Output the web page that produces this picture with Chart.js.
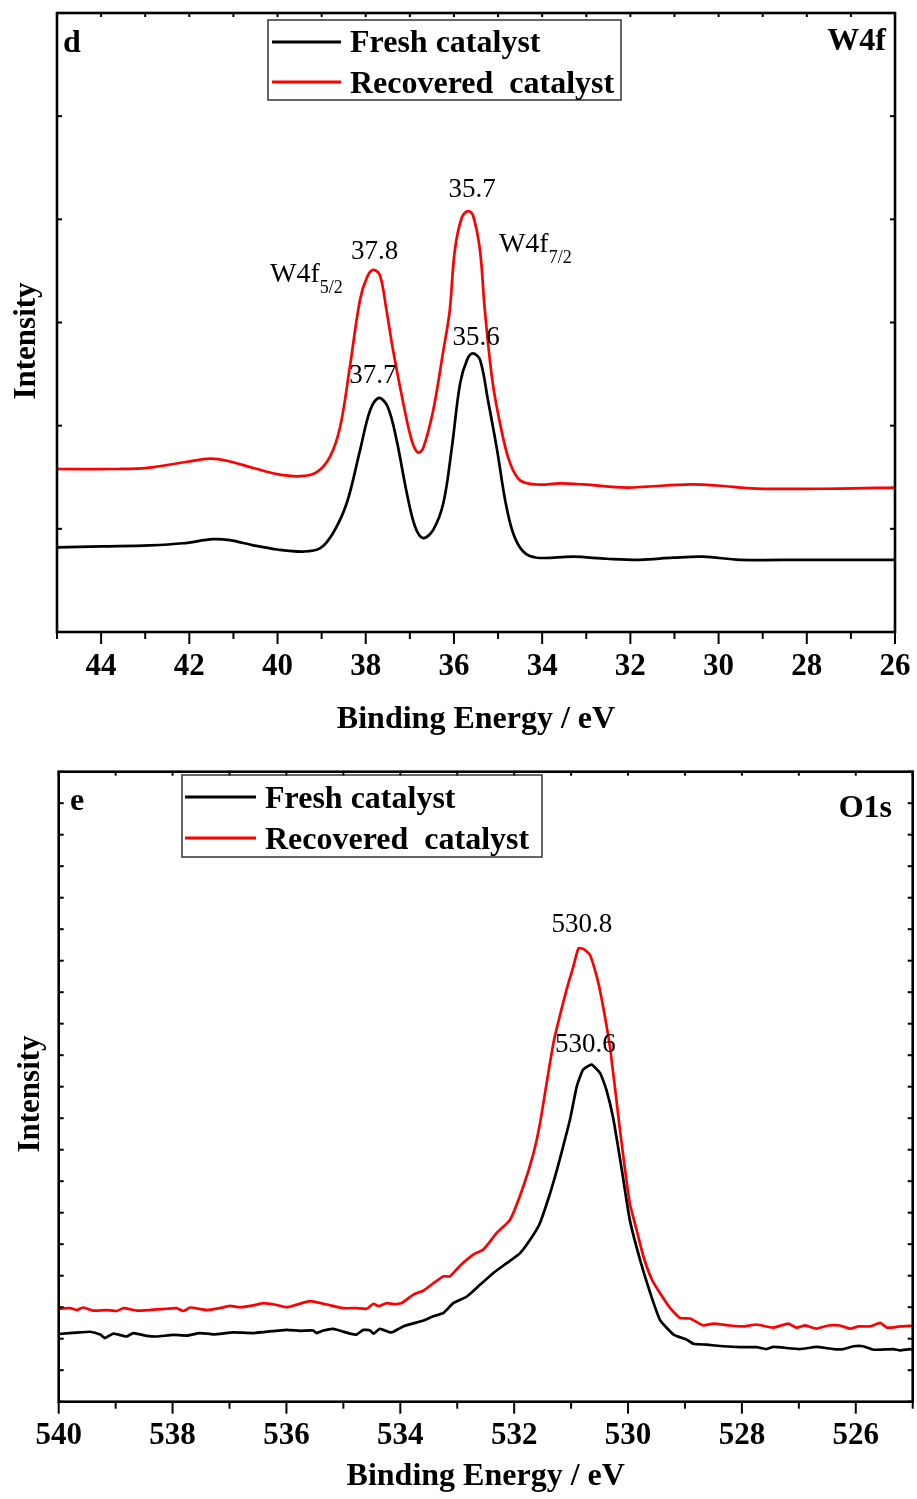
<!DOCTYPE html>
<html>
<head>
<meta charset="utf-8">
<title>XPS W4f / O1s</title>
<script src="https://cdn.jsdelivr.net/npm/chart.js@4.4.1/dist/chart.umd.min.js"></script>
<style>
  html, body { margin: 0; padding: 0; background: #fff; }
  #page { position: relative; width: 917px; height: 1499px; }
  #page canvas { position: absolute; left: 0; }
  #chartW { top: 0; }
  #chartO { top: 750px; }
</style>
</head>
<body>
<div id="page">
  <canvas id="chartW" width="917" height="750"></canvas>
  <canvas id="chartO" width="917" height="749"></canvas>
</div>
<script>
const SERIF = "'Liberation Serif', 'Times New Roman', serif";

const seriesNames = ["Fresh catalyst", "Recovered  catalyst"];
const seriesColors = ["#000000", "#ff0000"];

// --- W4f (panel d) ---
const wEnergyFresh = [45, 44, 42.9, 42.14, 41.46, 41.08, 40.55, 40.01, 39.42, 39.04, 38.74, 38.43, 38.13, 37.9, 37.7, 37.5, 37.3, 37.07, 36.88, 36.7, 36.47, 36.24, 36.05, 35.86, 35.7, 35.57, 35.41, 35.23, 35.02, 34.84, 34.66, 34.43, 34.12, 33.3, 32.53, 31.78, 31.03, 30.35, 29.51, 28.0, 26];
const wFresh = [0.82, 0.83, 0.84, 0.86, 0.90, 0.89, 0.84, 0.80, 0.78, 0.81, 0.96, 1.25, 1.76, 2.15, 2.27, 2.18, 1.86, 1.35, 1.02, 0.91, 0.99, 1.25, 1.78, 2.41, 2.64, 2.70, 2.64, 2.25, 1.76, 1.28, 0.96, 0.78, 0.72, 0.73, 0.71, 0.70, 0.72, 0.73, 0.70, 0.70, 0.70];
const wEnergyRec = [45, 43.64, 42.96, 42.05, 41.53, 41.15, 40.55, 40.01, 39.49, 39.11, 38.81, 38.58, 38.36, 38.13, 37.97, 37.83, 37.68, 37.53, 37.38, 37.15, 36.96, 36.82, 36.7, 36.47, 36.24, 36.1, 35.98, 35.82, 35.68, 35.57, 35.41, 35.3, 35.12, 34.91, 34.73, 34.5, 34.12, 33.6, 33.07, 32.08, 31.62, 30.64, 30.04, 29.13, 27.25, 26];
const wRec = [1.58, 1.58, 1.59, 1.65, 1.68, 1.66, 1.59, 1.53, 1.51, 1.55, 1.70, 1.99, 2.57, 3.22, 3.44, 3.51, 3.46, 3.12, 2.73, 2.22, 1.86, 1.74, 1.78, 2.15, 2.73, 3.10, 3.70, 4.02, 4.08, 4.04, 3.70, 3.12, 2.41, 1.93, 1.64, 1.47, 1.43, 1.44, 1.43, 1.40, 1.41, 1.43, 1.42, 1.39, 1.39, 1.40];
const wTicks = [26, 28, 30, 32, 34, 36, 38, 40, 42, 44];
const wPeakLabels = [
    { text: "37.8", x: 37.80, y: 3.615 },
    { text: "W4f", sub: "5/2", x: 40.17, y: 3.39 },
    { text: "35.7", x: 35.59, y: 4.216 },
    { text: "W4f", sub: "7/2", x: 34.98, y: 3.68 },
    { text: "37.7", x: 37.84, y: 2.41 },
    { text: "35.6", x: 35.50, y: 2.78 }
];

// --- O1s (panel e) ---
const oEnergyFresh = [540.0, 539.63, 539.45, 539.27, 539.19, 539.04, 538.81, 538.69, 538.45, 538.28, 537.99, 537.75, 537.52, 537.28, 536.93, 536.58, 536.0, 535.76, 535.53, 535.47, 535.35, 535.18, 534.88, 534.77, 534.65, 534.53, 534.47, 534.36, 534.18, 534.12, 533.95, 533.59, 533.42, 533.24, 533.07, 532.83, 532.6, 532.37, 532.13, 531.9, 531.72, 531.55, 531.37, 531.25, 531.14, 531.02, 530.9, 530.79, 530.64, 530.49, 530.38, 530.26, 530.11, 529.97, 529.79, 529.61, 529.44, 529.2, 528.97, 528.85, 528.62, 528.33, 528.03, 527.74, 527.57, 527.45, 526.98, 526.69, 526.39, 526.22, 526.04, 525.87, 525.69, 525.34, 525.22, 525.05, 525.0];
const oFresh = [2.15, 2.20, 2.22, 2.13, 2.02, 2.16, 2.07, 2.18, 2.09, 2.07, 2.12, 2.10, 2.18, 2.14, 2.20, 2.18, 2.28, 2.25, 2.26, 2.18, 2.26, 2.31, 2.16, 2.13, 2.28, 2.26, 2.16, 2.31, 2.20, 2.22, 2.39, 2.58, 2.71, 2.82, 3.13, 3.34, 3.71, 4.08, 4.40, 4.71, 5.14, 5.66, 6.61, 7.35, 8.10, 8.95, 10.01, 10.54, 10.70, 10.43, 9.90, 9.00, 7.37, 5.78, 4.51, 3.45, 2.60, 2.13, 1.97, 1.84, 1.81, 1.76, 1.73, 1.73, 1.67, 1.74, 1.67, 1.74, 1.67, 1.67, 1.76, 1.76, 1.65, 1.67, 1.63, 1.67, 1.66];
const oEnergyRec = [540.0, 539.8, 539.68, 539.57, 539.39, 539.16, 538.98, 538.86, 538.63, 538.4, 538.28, 538.1, 537.93, 537.81, 537.69, 537.4, 537.17, 536.99, 536.81, 536.58, 536.4, 536.17, 535.99, 535.82, 535.59, 535.35, 535.0, 534.77, 534.59, 534.47, 534.38, 534.24, 534.12, 533.98, 533.77, 533.59, 533.42, 533.24, 533.13, 532.95, 532.72, 532.54, 532.31, 532.07, 531.84, 531.66, 531.55, 531.31, 531.08, 530.96, 530.87, 530.78, 530.67, 530.55, 530.46, 530.31, 530.14, 529.97, 529.85, 529.73, 529.58, 529.44, 529.26, 529.09, 528.91, 528.68, 528.5, 528.21, 527.97, 527.74, 527.45, 527.19, 527.04, 526.89, 526.69, 526.48, 526.28, 526.1, 525.95, 525.75, 525.57, 525.45, 525.22, 525.05, 525.0];
const oRec = [2.95, 2.97, 2.91, 2.99, 2.89, 2.91, 2.88, 2.97, 2.89, 2.91, 2.93, 2.95, 2.97, 2.88, 2.99, 2.91, 2.97, 3.04, 3.00, 3.06, 3.13, 3.07, 3.00, 3.08, 3.19, 3.11, 2.97, 2.97, 2.95, 3.11, 3.03, 3.13, 3.10, 3.13, 3.40, 3.53, 3.76, 3.98, 3.98, 4.32, 4.67, 4.83, 5.35, 5.78, 6.83, 7.89, 8.80, 11.39, 13.08, 13.82, 14.40, 14.37, 14.19, 13.50, 12.76, 11.17, 8.60, 6.31, 5.46, 4.61, 3.87, 3.45, 2.97, 2.66, 2.64, 2.42, 2.48, 2.42, 2.39, 2.45, 2.35, 2.48, 2.35, 2.42, 2.32, 2.42, 2.42, 2.32, 2.39, 2.39, 2.50, 2.35, 2.39, 2.41, 2.40];
const oTicks = [526, 528, 530, 532, 534, 536, 538, 540];
const oPeakLabels = [
    { text: "530.8", x: 530.81, y: 14.92 },
    { text: "530.6", x: 530.75, y: 11.11 }
];

function toPoints(xs, ys) {
    return xs.map((v, i) => ({ x: v, y: ys[i] }));
}

// --- frame, ticks, legend and labels ---
const framePlugin = {
    id: "frame",
    afterDatasetsDraw(chart, args, o) {
        const { ctx, chartArea: a, scales: { x, y } } = chart;
        const seg = (x1, y1, x2, y2) => { ctx.beginPath(); ctx.moveTo(x1, y1); ctx.lineTo(x2, y2); ctx.stroke(); };
        ctx.save();
        ctx.strokeStyle = "#000";
        ctx.lineWidth = 2;
        for (let v = Math.ceil(x.min); v <= x.max; v++) {
            let px = x.getPixelForValue(v);
            seg(px, a.bottom, px, a.bottom + (v % 2 === 0 ? 12 : 7));
            seg(px, a.top, px, a.top + 4);
        }
        for (let v = y.min; v <= y.max; v++) {
            let py = y.getPixelForValue(v);
            seg(a.left, py, a.left + 5, py);
            seg(a.right, py, a.right - 5, py);
        }
        ctx.lineWidth = 2.6;
        ctx.strokeRect(a.left, a.top, a.right - a.left, a.bottom - a.top);

        // y title
        ctx.fillStyle = "#000";
        ctx.font = "bold 31px " + SERIF;
        ctx.save();
        ctx.translate(o.yTitle[0], o.yTitle[1]);
        ctx.rotate(-Math.PI / 2);
        ctx.textAlign = "center";
        ctx.textBaseline = "alphabetic";
        ctx.fillText("Intensity", 0, 0);
        ctx.restore();

        // panel letter and core level
        ctx.font = "bold 32px " + SERIF;
        ctx.textAlign = "left";
        ctx.fillText(o.panel.text, o.panel.x, o.panel.y);
        ctx.textAlign = "right";
        ctx.fillText(o.level.text, o.level.x, o.level.y);

        // legend
        const lg = o.legend;
        ctx.lineWidth = 1.5;
        ctx.strokeStyle = "#333";
        ctx.strokeRect(lg.box[0], lg.box[1], lg.box[2], lg.box[3]);
        ctx.textAlign = "left";
        chart.data.datasets.forEach((ds, i) => {
            ctx.strokeStyle = ds.borderColor;
            ctx.lineWidth = 3;
            seg(lg.line[0], lg.rows[i][0], lg.line[1], lg.rows[i][0]);
            ctx.fillStyle = "#000";
            ctx.fillText(ds.label, lg.textX, lg.rows[i][1]);
        });

        // peak labels
        o.peaks.forEach(p => {
            let px = x.getPixelForValue(p.x), py = y.getPixelForValue(p.y);
            if (p.sub) {
                ctx.font = "28px " + SERIF;
                ctx.textAlign = "left";
                ctx.fillText(p.text, px, py);
                let w = ctx.measureText(p.text).width;
                ctx.font = "18px " + SERIF;
                ctx.fillText(p.sub, px + w, py + 11);
            } else {
                ctx.font = "27px " + SERIF;
                ctx.textAlign = "center";
                ctx.fillText(p.text, px, py);
            }
        });
        ctx.restore();
    }
};

function makeChart(id, c) {
    return new Chart(document.getElementById(id), {
        type: "line",
        data: {
            datasets: [
                { label: seriesNames[0], data: toPoints(c.xf, c.yf), borderColor: seriesColors[0] },
                { label: seriesNames[1], data: toPoints(c.xr, c.yr), borderColor: seriesColors[1] }
            ]
        },
        options: {
            responsive: false,
            animation: false,
            layout: { padding: { top: c.padTop, right: c.padRight, left: 0, bottom: 0 } },
            elements: {
                point: { radius: 0 },
                line: { borderWidth: 2.7, tension: c.tension, fill: false }
            },
            plugins: { legend: { display: false }, tooltip: { enabled: false }, frame: c.frame },
            scales: {
                x: {
                    type: "linear", reverse: true, min: c.xMin, max: c.xMax,
                    grid: { display: false, drawTicks: false },
                    border: { display: false },
                    afterBuildTicks: s => { s.ticks = c.ticks.map(v => ({ value: v })); },
                    afterFit: s => { s.height = c.xAxisHeight; },
                    ticks: { font: { family: SERIF, weight: "bold", size: 31 }, color: "#000", padding: 16, maxRotation: 0, autoSkip: false },
                    title: { display: true, text: "Binding Energy / eV", color: "#000",
                             font: { family: SERIF, weight: "bold", size: 32 }, padding: { top: 0, bottom: c.titlePad } }
                },
                y: {
                    min: 0, max: c.yMax,
                    ticks: { display: false },
                    grid: { display: false, drawTicks: false },
                    border: { display: false },
                    afterFit: s => { s.width = c.yAxisWidth; }
                }
            }
        },
        plugins: [framePlugin]
    });
}

makeChart("chartW", {
    xf: wEnergyFresh, yf: wFresh, xr: wEnergyRec, yr: wRec, ticks: wTicks,
    xMin: 26, xMax: 45, yMax: 6, tension: 0.35,
    padTop: 13, padRight: 22, yAxisWidth: 57, xAxisHeight: 118, titlePad: 11,
    frame: {
        yTitle: [35, 341],
        panel: { text: "d", x: 63, y: 52 },
        level: { text: "W4f", x: 886, y: 50 },
        legend: { box: [268, 20, 353, 80], line: [272, 341], textX: 350, rows: [[42, 52], [82, 93]] },
        peaks: wPeakLabels
    }
});

makeChart("chartO", {
    xf: oEnergyFresh, yf: oFresh, xr: oEnergyRec, yr: oRec, ticks: oTicks,
    xMin: 525, xMax: 540, yMax: 20, tension: 0.15,
    padTop: 21.7, padRight: 4.3, yAxisWidth: 58.7, xAxisHeight: 97.3, titlePad: 3,
    frame: {
        yTitle: [39, 344],
        panel: { text: "e", x: 70, y: 60 },
        level: { text: "O1s", x: 892, y: 67 },
        legend: { box: [182, 25, 360, 82], line: [185, 256], textX: 265, rows: [[47, 58], [88, 99]] },
        peaks: oPeakLabels
    }
});
</script>
</body>
</html>
